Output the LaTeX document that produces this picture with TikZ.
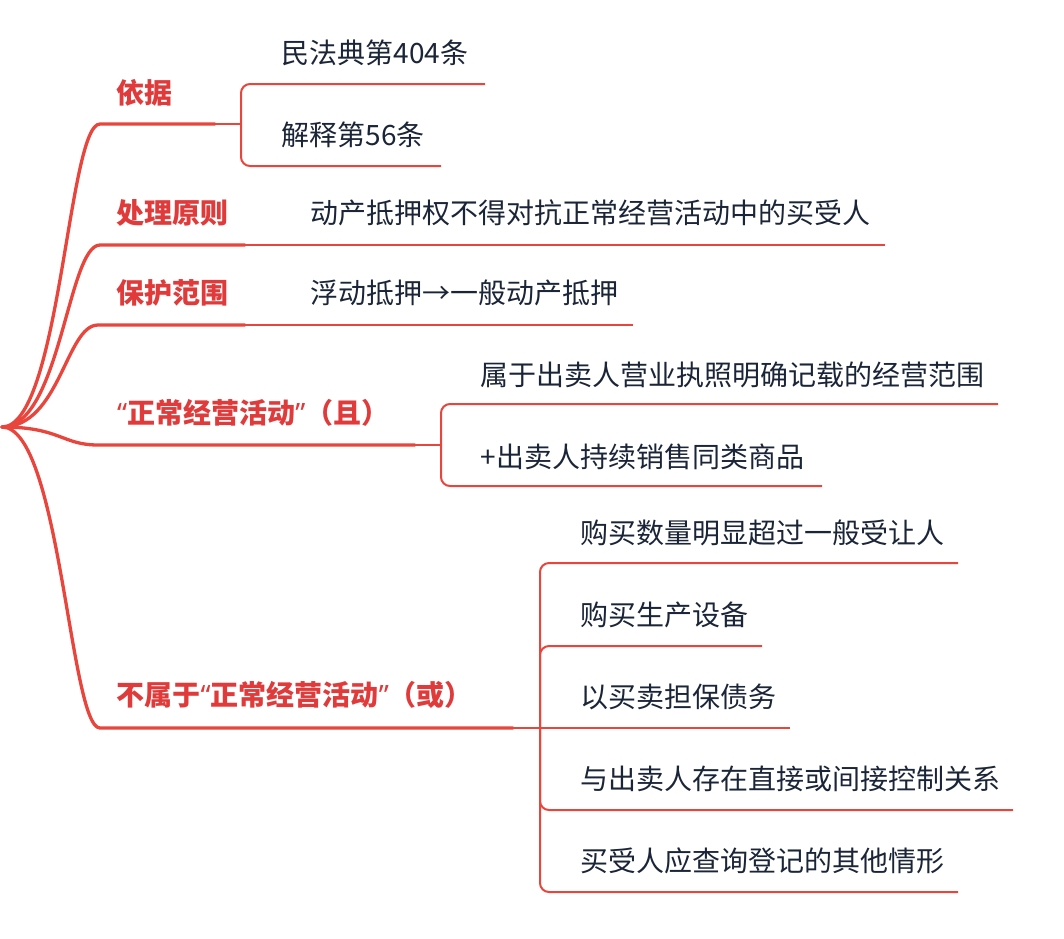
\documentclass[tikz,border=0pt]{standalone}
\usepackage{fontspec}
\setmainfont{Noto Sans CJK SC}
\newfontfamily\qfont{Noto Sans}
\definecolor{linec}{HTML}{E8453C}
\definecolor{labc}{HTML}{E03A3A}
\definecolor{txtc}{HTML}{1B2538}
\newcommand{\fsz}{\fontsize{28}{32}\selectfont}
\newcommand{\myLq}{{\qfont “}}
\newcommand{\myRq}{{\qfont ”}}
\begin{document}
\begin{tikzpicture}[x=1pt,y=-1pt,
  labtext/.style={anchor=west,inner sep=0pt,text=labc,font=\fsz\bfseries,text height=24.6pt,text depth=3.4pt},
  kidtext/.style={anchor=west,inner sep=0pt,text=txtc,font=\fsz,text height=24.6pt,text depth=3.4pt},
  mainline/.style={draw=linec,line width=3.3pt,line cap=round,line join=round},
  subline/.style={draw=linec,line width=2pt,rounded corners=9pt}]
\useasboundingbox (0,0) rectangle (1064,938);
\coordinate (root) at (2,427);
% branch corner / end points
\coordinate (b1s) at (100,124); \coordinate (b1m) at (215,124); \coordinate (b1k) at (241,124);
\coordinate (b2s) at (100,245); \coordinate (b2m) at (245,245); \coordinate (b2e) at (885,245);
\coordinate (b3s) at (98,325);  \coordinate (b3m) at (245,325); \coordinate (b3e) at (633,325);
\coordinate (b4s) at (98,445);  \coordinate (b4m) at (415,445); \coordinate (b4k) at (441,445);
\coordinate (b5s) at (100,728); \coordinate (b5m) at (513,728); \coordinate (b5k) at (540,728);
% children ends
\coordinate (e11) at (485,84);  \coordinate (e12) at (441,166);
\coordinate (e41) at (998,404); \coordinate (e42) at (822,486);
\coordinate (e51) at (958,563); \coordinate (e52) at (762,646); \coordinate (e53) at (790,728);
\coordinate (e54) at (1013,810); \coordinate (e55) at (958,892);
% control points
\coordinate (r1) at (60,427);
\coordinate (k1) at (68,124); \coordinate (k2) at (68,245); \coordinate (k3) at (66,325);
\coordinate (k4) at (62,445); \coordinate (k5) at (70,728);
% main branches
\draw[mainline] (root) .. controls (r1) and (k1) .. (b1s) -- (b1m);
\draw[mainline] (root) .. controls (r1) and (k2) .. (b2s) -- (b2m);
\draw[mainline] (root) .. controls (r1) and (k3) .. (b3s) -- (b3m);
\draw[mainline] (root) .. controls (r1) and (k4) .. (b4s) -- (b4m);
\draw[mainline] (root) .. controls (r1) and (k5) .. (b5s) -- (b5m);
% thin continuations
\draw[subline] (b1m) -- (b1k);
\draw[subline] (b1k) |- (e11);
\draw[subline] (b1k) |- (e12);
\draw[subline] (b2m) -- (b2e);
\draw[subline] (b3m) -- (b3e);
\draw[subline] (b4m) -- (b4k);
\draw[subline] (b4k) |- (e41);
\draw[subline] (b4k) |- (e42);
\draw[subline] (b5m) -- (b5k);
\draw[subline] (b5k) |- (e51);
\draw[subline] (b5k) |- (e52);
\draw[subline] (b5k) -- (e53);
\draw[subline] (b5k) |- (e54);
\draw[subline] (b5k) |- (e55);
% labels
\node[labtext] (l1) at (116.5,93)  {依据};
\node[labtext] (l2) at (116.5,213) {处理原则};
\node[labtext] (l3) at (116.5,293) {保护范围};
\node[labtext] (l4) at (117,413) {\myLq 正常经营活动\myRq（且）};
\node[labtext] (l5) at (116.5,695) {不属于\myLq 正常经营活动\myRq（或）};
% children texts
\node[kidtext] (c11) at (281.5,53)  {民法典第404条};
\node[kidtext] (c12) at (281.5,135) {解释第56条};
\node[kidtext] (c21) at (310.5,213) {动产抵押权不得对抗正常经营活动中的买受人};
\node[kidtext] (c31) at (310.5,293) {浮动抵押→一般动产抵押};
\node[kidtext] (c41) at (480.5,375) {属于出卖人营业执照明确记载的经营范围};
\node[kidtext] (c42) at (480.5,457) {+出卖人持续销售同类商品};
\node[kidtext] (c51) at (580.5,533) {购买数量明显超过一般受让人};
\node[kidtext] (c52) at (580.5,615) {购买生产设备};
\node[kidtext] (c53) at (580.5,697) {以买卖担保债务};
\node[kidtext] (c54) at (580.5,779) {与出卖人存在直接或间接控制关系};
\node[kidtext] (c55) at (580.5,861) {买受人应查询登记的其他情形};
\end{tikzpicture}
\end{document}
